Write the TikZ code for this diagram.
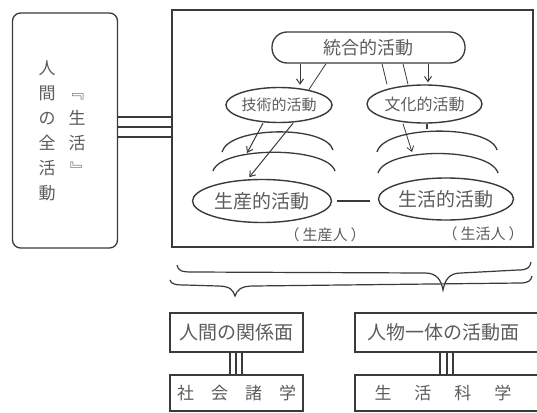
\documentclass[tikz,border=0pt]{standalone}
\usepackage{fontspec}
\setmainfont{Noto Sans CJK JP}
\usetikzlibrary{arrows.meta,shapes.geometric}
\definecolor{ink}{HTML}{3A3A3A}
\definecolor{txt}{HTML}{5C5C5C}
\tikzset{
  box/.style={draw=ink, line width=1.3pt, inner sep=0pt, text=txt},
  ell/.style={draw=ink, line width=1.4pt, ellipse, inner sep=0pt, text=txt},
  lbl/.style={text=txt, inner sep=0pt},
  link/.style={draw=ink, line width=1.1pt},
  arr/.style={draw=ink, line width=1.0pt, -{Straight Barb[length=5pt,width=7pt]}},
  thin/.style={draw=ink, line width=0.8pt},
  fs/.style={font=\fontsize{#1}{#1}\selectfont}
}
\begin{document}
\begin{tikzpicture}[x=1pt,y=-1pt]
\useasboundingbox (0,0) rectangle (537,412);
\fill[white] (0,0) rectangle (537,412);

% left box
\node[box, rounded corners=8pt, minimum width=105pt, minimum height=235pt] (lbox) at (65,130.5) {};
\node[lbl, align=center, font=\fontsize{17}{25}\selectfont] (col1) at (47,131) {人\\間\\の\\全\\活\\動};
\node[lbl, align=center, font=\fontsize{17}{25}\selectfont] (col2) at (77,131) {\rotatebox[origin=c]{-90}{『}\\生\\活\\\rotatebox[origin=c]{-90}{』}};

% main box
\node[box, minimum width=361pt, minimum height=237pt] (main) at (352.5,128.5) {};
\foreach \yy in {117,127,137}
  \draw[link] (lbox.east |- 0,\yy) -- (main.west |- 0,\yy);

% nodes inside
\node[box, rounded corners=15pt, minimum width=193pt, minimum height=31pt, fs=18] (tougo) at (368.5,47.5) {統合的活動};
\node[ell, minimum width=106pt, minimum height=35pt, fs=15] (gijutsu) at (279,105) {技術的活動};
\node[ell, minimum width=115pt, minimum height=38pt, fs=16] (bunka) at (424.5,104) {文化的活動};
\node[ell, minimum width=139pt, minimum height=43pt, fs=19] (seisan) at (262,201) {生産的活動};
\node[ell, minimum width=135pt, minimum height=42pt, fs=19] (seikatsu) at (446,199) {生活的活動};
\node[lbl, fs=15] (jin1) at (325,235) {（\hspace{3pt}生産人\hspace{3pt}）};
\node[lbl, fs=15] (jin2) at (483,234) {（\hspace{3pt}生活人\hspace{3pt}）};

% arcs
\draw[ink, line width=1.3pt] (222,152) .. controls (229,126) and (326,125) .. (333,150);
\draw[ink, line width=1.3pt] (213,171) .. controls (221,146) and (327,146) .. (335,171);
\draw[ink, line width=1.3pt] (377,152) .. controls (384,125) and (490,124) .. (497,150);
\draw[ink, line width=1.3pt] (378,173) .. controls (386,147) and (490,147) .. (498,173);

\coordinate (cL) at (247,153);
\coordinate (cR) at (412,152);
\coordinate (cT) at (427,129);

% connectors left
\draw[arr, shorten >=2pt] (tougo.south -| 300,0) -- (gijutsu.north -| 300,0);
\draw[thin] (tougo.south -| 326,0) -- (gijutsu.27);
\draw[arr] (gijutsu.south -| 263,0) -- (cL);
\draw[arr, shorten >=2pt] (gijutsu.south -| 293,0) -- (seisan.north -| 248,0);

% connectors right
\draw[thin] (tougo.south -| 382,0) -- (bunka.north -| 387,0);
\draw[thin] (tougo.south -| 403,0) -- (bunka.north -| 408,0);
\draw[arr, shorten >=2pt] (tougo.south -| 428,0) -- (bunka.north -| 428,0);
\draw[arr, line width=0.8pt] (bunka.south -| 403,0) -- (cR);
\draw[ink, line width=2pt] (bunka.south -| 427,0) -- (cT);

% link between activities
\draw[ink, line width=1.3pt, shorten <=5pt, shorten >=8pt] (seisan.east) -- (seikatsu.west |- seisan.east);

% braces
\draw[ink, line width=1.2pt] (177,265) .. controls (178,271) and (182,272) .. (192,272) -- (425,273)
  .. controls (437,273) and (441,280) .. (443,290) .. controls (445,280) and (449,273) .. (461,273)
  -- (518,270) .. controls (527,270) and (530,268) .. (531,262);
\draw[ink, line width=1.2pt] (170,280) .. controls (171,284) and (175,285) .. (185,285) -- (218,286)
  .. controls (230,286) and (233,290) .. (235,296) .. controls (237,290) and (241,286) .. (253,286)
  -- (520,283) .. controls (528,283) and (531,281) .. (532,276);

% bottom boxes
\node[box, minimum width=133pt, minimum height=39pt, fs=19] (kankei) at (236.5,332.5) {人間の関係面};
\node[box, minimum width=190pt, minimum height=39pt, fs=19] (katsudo) at (450,332.5) {人物一体の活動面\hspace*{14pt}};
\node[box, minimum width=133pt, minimum height=36pt, fs=17] (shakai) at (236.5,393) {社\hspace{17pt}会\hspace{17pt}諸\hspace{17pt}学};
\node[box, minimum width=190pt, minimum height=36pt, fs=17] (kagaku) at (450,393) {生\hspace{23pt}活\hspace{23pt}科\hspace{23pt}学\hspace*{14pt}};
\foreach \xx in {230,236,242}
  \draw[link] (kankei.south -| \xx,0) -- (shakai.north -| \xx,0);
\foreach \xx in {440,447,453}
  \draw[link] (katsudo.south -| \xx,0) -- (kagaku.north -| \xx,0);
\end{tikzpicture}
\end{document}
